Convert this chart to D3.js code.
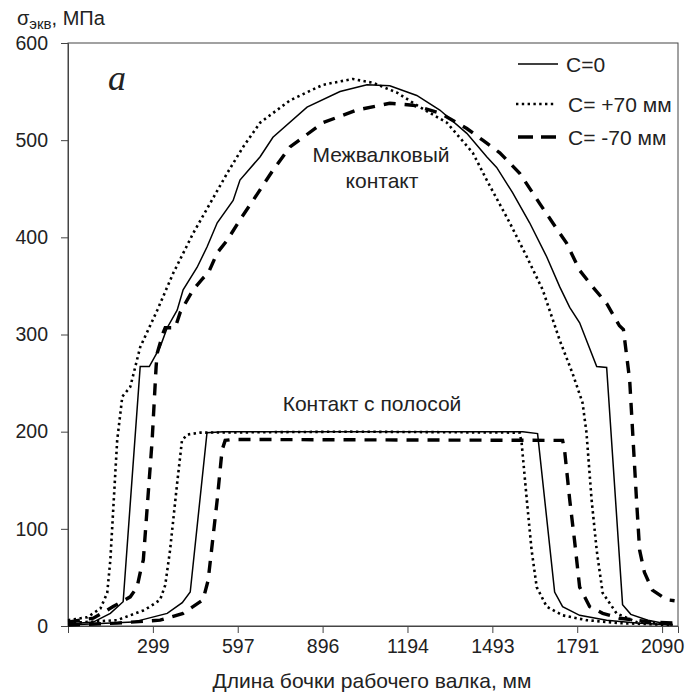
<!DOCTYPE html>
<html>
<head>
<meta charset="utf-8">
<script src="https://cdn.jsdelivr.net/npm/d3@7"></script>
<style>
  body { margin: 0; background: #fff; }
  svg text { font-family: "Liberation Sans", Arial, sans-serif; fill: #222; }
</style>
</head>
<body>
<div id="chart"></div>
<script>
const svgWidth = 692;
const svgHeight = 697;
const margin = {top: 43, right: 14, bottom: 71, left: 68};

const width = svgWidth - margin.left - margin.right;
const height = svgHeight - margin.top - margin.bottom;

// x ticks (mm) and their labels
const tickVals = [0, 298.6, 597.1, 895.7, 1194.3, 1492.9, 1791.4, 2090];
const tickLabels = ["", "299", "597", "896", "1194", "1493", "1791", "2090"];
const yTicks = [0, 100, 200, 300, 400, 500, 600];

// Межвалковый контакт
const rollX_c0 = [0, 89, 149, 194, 254, 286, 324, 349, 384, 405, 454, 489, 525, 581, 605, 676, 721, 841, 957, 1052, 1132, 1227, 1308, 1403, 1473, 1508, 1564, 1624, 1684, 1730, 1765, 1800, 1860, 1895, 1951, 1980, 2040, 2127];
const rollY_c0 = [2, 4, 13, 25, 267, 267, 287, 307, 325, 346, 369, 390, 415, 438, 459, 483, 503, 534, 550, 557, 556, 546, 531, 507, 483, 472, 446, 415, 380, 349, 328, 312, 267, 266, 22, 12, 6, 1];

const rollX_p70 = [0, 68, 114, 138, 149, 173, 191, 219, 254, 314, 370, 440, 500, 560, 616, 676, 781, 897, 1002, 1073, 1157, 1238, 1333, 1424, 1473, 1554, 1614, 1670, 1730, 1775, 1810, 1824, 1842, 1860, 1881, 1930, 2000, 2127];
const rollY_p70 = [6, 9, 18, 34, 68, 191, 236, 246, 287, 325, 363, 404, 435, 466, 493, 518, 541, 557, 563, 559, 549, 534, 518, 487, 459, 415, 380, 346, 294, 260, 230, 199, 130, 78, 34, 13, 4, 2];

const rollX_m70 = [0, 89, 159, 219, 243, 254, 265, 296, 310, 314, 335, 342, 377, 395, 440, 475, 493, 525, 560, 605, 651, 721, 781, 897, 1016, 1132, 1213, 1308, 1403, 1459, 1519, 1589, 1659, 1705, 1754, 1800, 1846, 1895, 1940, 1954, 1976, 1986, 2000, 2011, 2028, 2056, 2106, 2134];
const rollY_m70 = [4, 8, 20, 30, 40, 55, 68, 191, 267, 281, 302, 307, 307, 323, 346, 358, 363, 384, 397, 418, 438, 469, 493, 518, 531, 538, 536, 528, 512, 500, 487, 466, 435, 415, 394, 366, 349, 332, 309, 305, 253, 202, 130, 78, 55, 37, 27, 26];

// Контакт с полосой
const stripX_c0 = [0, 229, 349, 402, 430, 489, 546, 1600, 1652, 1712, 1740, 1800, 1895, 2000, 2127];
const stripY_c0 = [1, 4, 13, 24, 35, 199, 200, 200, 198, 35, 20, 11, 6, 3, 1];

const stripX_p70 = [0, 173, 265, 289, 324, 342, 359, 384, 401, 419, 465, 992, 1589, 1596, 1614, 1631, 1649, 1684, 1740, 1824, 1940, 2127];
const stripY_p70 = [3, 6, 16, 20, 27, 42, 78, 147, 191, 197, 199, 200, 199, 188, 130, 78, 40, 20, 11, 6, 3, 1];

const stripX_m70 = [0, 173, 324, 405, 475, 493, 525, 542, 553, 578, 1740, 1747, 1765, 1782, 1800, 1835, 1881, 1940, 2056, 2127];
const stripY_m70 = [1, 3, 6, 13, 27, 47, 130, 181, 191, 192, 191, 181, 130, 88, 40, 20, 13, 8, 4, 3];

const seriesNames = ["C=0", "C= +70 мм", "C= -70 мм"];
const dashes = ["none", "2.4,3.4", "12,9"];
const widths = [1.5, 2.6, 3.4];

const series = [
    {x: rollX_c0, y: rollY_c0, s: 0},
    {x: rollX_p70, y: rollY_p70, s: 1},
    {x: rollX_m70, y: rollY_m70, s: 2},
    {x: stripX_c0, y: stripY_c0, s: 0},
    {x: stripX_p70, y: stripY_p70, s: 1},
    {x: stripX_m70, y: stripY_m70, s: 2}
];

const x = d3.scaleLinear()
    .domain([0, 2146])
    .range([0, width]);

const y = d3.scaleLinear()
    .domain([0, 600])
    .range([height, 0]);

const svg = d3.select("#chart")
    .append("svg")
    .attr("width", svgWidth)
    .attr("height", svgHeight)
    .append("g")
    .attr("transform", `translate(${margin.left},${margin.top})`);

// frame
svg.append("rect")
    .attr("width", width)
    .attr("height", height)
    .attr("fill", "none")
    .attr("stroke", "#444")
    .attr("stroke-width", 1);

const xAxis = d3.axisBottom(x)
    .tickValues(tickVals)
    .tickSize(7)
    .tickPadding(6)
    .tickFormat((d, i) => tickLabels[i]);

const yAxis = d3.axisLeft(y)
    .tickValues(yTicks)
    .tickSize(7)
    .tickPadding(13);

const gx = svg.append("g")
    .attr("transform", `translate(0,${height})`)
    .call(xAxis);

const gy = svg.append("g")
    .call(yAxis);

[gx, gy].forEach(g => {
    g.select(".domain").attr("stroke", "#444");
    g.selectAll(".tick line").attr("stroke", "#444");
    g.selectAll("text")
        .attr("font-size", "19.5px")
        .attr("font-family", "Liberation Sans, Arial, sans-serif")
        .attr("fill", "#222");
});

const line = d3.line()
    .x(d => x(d[0]))
    .y(d => y(d[1]));

series.forEach(sr => {
    const pts = sr.x.map((v, i) => [v, sr.y[i]]);
    svg.append("path")
        .datum(pts)
        .attr("d", line)
        .attr("fill", "none")
        .attr("stroke", "#000")
        .attr("stroke-width", widths[sr.s])
        .attr("stroke-dasharray", dashes[sr.s]);
});

// legend
const legend = svg.append("g")
    .attr("transform", `translate(${518 - margin.left},${64 - margin.top})`);

seriesNames.forEach((name, i) => {
    const row = legend.append("g").attr("transform", `translate(0,${[0, 40, 73][i]})`);
    row.append("line")
        .attr("x1", i === 1 ? -2 : 0)
        .attr("x2", i === 1 ? 38 : 40)
        .attr("y1", 0).attr("y2", 0)
        .attr("stroke", "#000")
        .attr("stroke-width", widths[i])
        .attr("stroke-dasharray", i === 2 ? "15,8" : dashes[i]);
    row.append("text")
        .attr("x", i === 0 ? 48 : 50)
        .attr("y", 7.5)
        .attr("font-size", "21px")
        .text(name);
});

// y axis title
const yt = svg.append("text")
    .attr("x", 17 - margin.left)
    .attr("y", 25 - margin.top)
    .attr("font-size", "20px");
yt.append("tspan").text("σ");
yt.append("tspan").attr("font-size", "15px").attr("dy", "4").text("экв");
yt.append("tspan").attr("dy", "-4").text(", МПа");

// x axis title
svg.append("text")
    .attr("x", 372 - margin.left)
    .attr("y", 688 - margin.top)
    .attr("text-anchor", "middle")
    .attr("font-size", "21px")
    .text("Длина бочки рабочего валка, мм");

// panel letter
svg.append("text")
    .attr("x", 108 - margin.left)
    .attr("y", 90 - margin.top)
    .style("font-family", "Liberation Serif, serif")
    .attr("font-style", "italic")
    .attr("font-size", "36px")
    .text("a");

svg.append("text")
    .attr("x", 381 - margin.left)
    .attr("y", 162 - margin.top)
    .attr("text-anchor", "middle")
    .attr("font-size", "21px")
    .text("Межвалковый");

svg.append("text")
    .attr("x", 382 - margin.left)
    .attr("y", 188 - margin.top)
    .attr("text-anchor", "middle")
    .attr("font-size", "21px")
    .text("контакт");

svg.append("text")
    .attr("x", 372 - margin.left)
    .attr("y", 411 - margin.top)
    .attr("text-anchor", "middle")
    .attr("font-size", "21px")
    .text("Контакт с полосой");
</script>
</body>
</html>
